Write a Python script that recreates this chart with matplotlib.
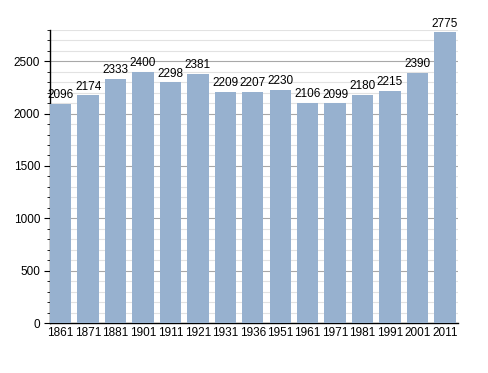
import matplotlib
matplotlib.use("Agg")
from matplotlib import pyplot as plt
from matplotlib.ticker import MultipleLocator

plt.rcParams['font.family'] = ['Liberation Sans', 'DejaVu Sans']

anni = ["1861", "1871", "1881", "1901", "1911", "1921", "1931", "1936",
        "1951", "1961", "1971", "1981", "1991", "2001", "2011"]
abitanti = [2096, 2174, 2333, 2400, 2298, 2381, 2209, 2207,
            2230, 2106, 2099, 2180, 2215, 2390, 2775]

fig = plt.figure(figsize=(4.88, 3.73), dpi=100)
ax = fig.add_axes([0.1025, 0.134, 0.836, 0.786])

x = range(len(anni))
ax.bar(x, abitanti, width=0.78, color="#97b1cf", zorder=3)
for xi, v in zip(x, abitanti):
    ax.text(xi, v + 25, str(v), ha="center", va="bottom", fontsize=8.5, zorder=4)

ax.set_xlim(-0.5 + 0.11, len(anni) - 0.5 - 0.02)
ax.set_ylim(0, 2800)
ax.set_xticks(list(x))
ax.set_xticklabels(anni, fontsize=8.5)
ax.tick_params(axis="x", length=0, pad=3)

ax.yaxis.set_major_locator(MultipleLocator(500))
ax.yaxis.set_minor_locator(MultipleLocator(100))
ax.tick_params(axis="y", which="major", length=4, labelsize=8.5, pad=3)
ax.tick_params(axis="y", which="minor", length=2.5)

ax.grid(axis="y", which="major", color="#a8a8a8", linewidth=0.8, zorder=1)
ax.grid(axis="y", which="minor", color="#e2e2e2", linewidth=0.8, zorder=1)

for s in ["top", "right"]:
    ax.spines[s].set_visible(False)
ax.spines["left"].set_linewidth(1)
ax.spines["bottom"].set_linewidth(1)

fig.savefig("out.png", dpi=100)
